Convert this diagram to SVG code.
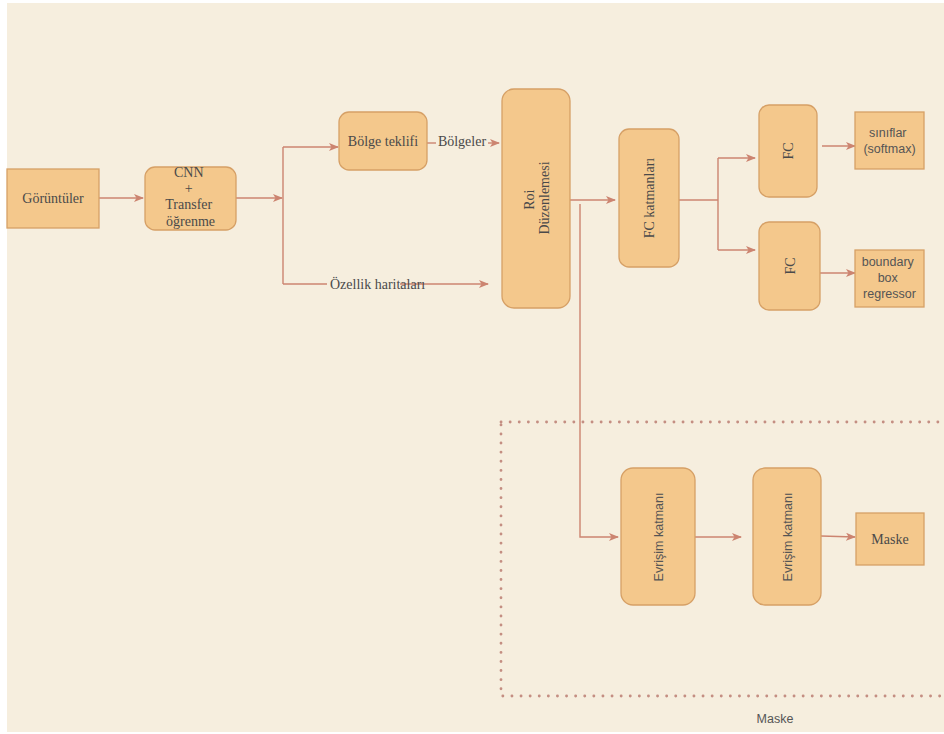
<svg xmlns="http://www.w3.org/2000/svg" width="944" height="734" viewBox="0 0 944 734">
  <defs>
    <marker id="arr" markerWidth="10" markerHeight="8" refX="9" refY="4" orient="auto" markerUnits="userSpaceOnUse">
      <path d="M0,0 L10,4 L0,8 L2.5,4 Z" fill="#CC8470"/>
    </marker>
  </defs>
  <style>
    .box { fill: #F4C88C; stroke: #D6A066; stroke-width: 1.3; }
    .edge { fill: none; stroke: #CC8470; stroke-width: 1.4; }
    .serif { font-family: "Liberation Serif", "Times New Roman", serif; font-size: 14px; fill: #4A4A4A; }
    .sans { font-family: "Liberation Sans", Arial, sans-serif; font-size: 12.5px; fill: #555555; }
  </style>

  <rect x="0" y="0" width="944" height="734" fill="#FFFFFF"/>
  <rect x="7" y="3" width="937" height="729" fill="#F6EEDE"/>

  <!-- mask region frame -->
  <g id="mask-region">
    <rect x="501" y="422" width="460" height="274" fill="none" stroke="#C48E82" stroke-width="2.8" stroke-dasharray="0.1 9" stroke-linecap="round"/>
    <text class="sans" x="775" y="723" text-anchor="middle" font-size="14">Maske</text>
  </g>

  <!-- connectors -->
  <g id="connectors">
    <path class="edge" d="M99,198 H143" marker-end="url(#arr)"/>
    <path class="edge" d="M236,198 H282" marker-end="url(#arr)"/>
    <path class="edge" d="M283,147 V284"/>
    <path class="edge" d="M283,147 H338" marker-end="url(#arr)"/>
    <path class="edge" d="M283,284 H327"/>
    <path class="edge" d="M400,284 H488" marker-end="url(#arr)"/>
    <path class="edge" d="M427,143 H436"/>
    <path class="edge" d="M488,143 H499" marker-end="url(#arr)"/>
    <path class="edge" d="M570,200 H615" marker-end="url(#arr)"/>
    <path class="edge" d="M580,204 V537 H618" marker-end="url(#arr)"/>
    <path class="edge" d="M679,200 H718"/>
    <path class="edge" d="M718,158 V250"/>
    <path class="edge" d="M718,158 H755" marker-end="url(#arr)"/>
    <path class="edge" d="M718,250 H755" marker-end="url(#arr)"/>
    <path class="edge" d="M822,146 H855" marker-end="url(#arr)"/>
    <path class="edge" d="M820,273 H855" marker-end="url(#arr)"/>
    <path class="edge" d="M695,537 H741" marker-end="url(#arr)"/>
    <path class="edge" d="M821,536 L855,537" marker-end="url(#arr)"/>
  </g>

  <g id="goruntuler">
    <rect class="box" x="7" y="169" width="92" height="59"/>
    <text class="serif" x="53" y="203" text-anchor="middle">Görüntüler</text>
  </g>

  <g id="cnn">
    <rect class="box" x="145" y="167" width="91" height="63" rx="10"/>
    <text class="serif" text-anchor="middle">
      <tspan x="190.5" y="177">CNN</tspan>
      <tspan x="190.5" y="193">+</tspan>
      <tspan x="190.5" y="209">Transfer</tspan>
      <tspan x="190.5" y="226">öğrenme</tspan>
    </text>
  </g>

  <g id="bolge-teklifi">
    <rect class="box" x="339" y="112" width="88" height="58" rx="10"/>
    <text class="serif" x="383" y="146" text-anchor="middle">Bölge teklifi</text>
  </g>

  <g id="bolgeler-label">
    <text class="serif" x="462" y="146" text-anchor="middle">Bölgeler</text>
  </g>

  <g id="ozellik-label">
    <text class="serif" x="330" y="289">Özellik haritaları</text>
  </g>

  <g id="roi">
    <rect class="box" x="502" y="89" width="68" height="219" rx="12"/>
    <text class="serif" text-anchor="middle" transform="translate(536,198) rotate(-90)">
      <tspan x="0" y="-2">Roi</tspan>
      <tspan x="0" y="13">Düzenlemesi</tspan>
    </text>
  </g>

  <g id="fc-katmanlari">
    <rect class="box" x="619" y="129" width="60" height="138" rx="10"/>
    <text class="serif" text-anchor="middle" transform="translate(654,198) rotate(-90)">FC katmanları</text>
  </g>

  <g id="fc-top">
    <rect class="box" x="759" y="105" width="58" height="92" rx="10"/>
    <text class="serif" text-anchor="middle" transform="translate(793,151) rotate(-90)">FC</text>
  </g>

  <g id="fc-bottom">
    <rect class="box" x="759" y="222" width="61" height="88" rx="10"/>
    <text class="serif" text-anchor="middle" transform="translate(795,266) rotate(-90)">FC</text>
  </g>

  <g id="siniflar">
    <rect class="box" x="855" y="112" width="69" height="57"/>
    <text class="sans" text-anchor="middle">
      <tspan x="889.5" y="137">sınıflar</tspan>
      <tspan x="889.5" y="153">(softmax)</tspan>
    </text>
  </g>

  <g id="boundary">
    <rect class="box" x="855" y="250" width="69" height="57"/>
    <text class="sans" text-anchor="middle">
      <tspan x="889.5" y="266">boundary</tspan>
      <tspan x="889.5" y="282">box</tspan>
      <tspan x="889.5" y="298">regressor</tspan>
    </text>
  </g>

  <g id="evrisim-1">
    <rect class="box" x="621" y="468" width="74" height="137" rx="12"/>
    <text class="sans" font-size="13" text-anchor="middle" transform="translate(663,537) rotate(-90)">Evrişim katmanı</text>
  </g>

  <g id="evrisim-2">
    <rect class="box" x="753" y="468" width="68" height="137" rx="12"/>
    <text class="sans" font-size="13" text-anchor="middle" transform="translate(792,537) rotate(-90)">Evrişim katmanı</text>
  </g>

  <g id="maske">
    <rect class="box" x="856" y="513" width="68" height="52"/>
    <text class="serif" x="890" y="544" text-anchor="middle">Maske</text>
  </g>
</svg>
